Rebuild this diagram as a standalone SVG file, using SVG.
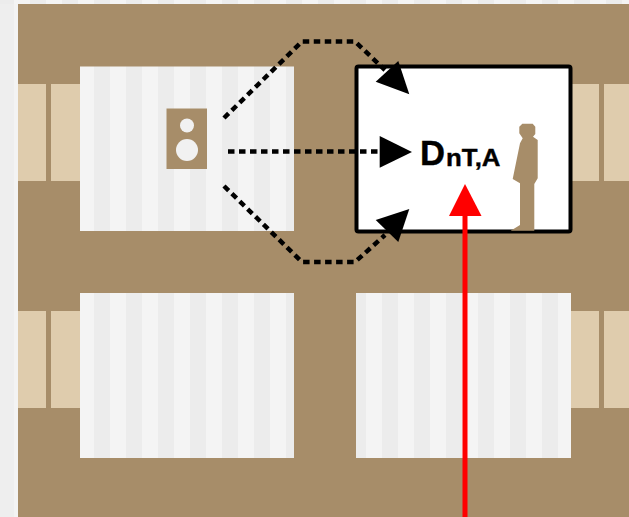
<svg xmlns="http://www.w3.org/2000/svg" width="629" height="517" viewBox="0 0 629 517">
<style>
.wall{fill:#a78d69}
.win{fill:#dfccad}
.room{fill:url(#stripes)}
.dash{fill:none;stroke:#000;stroke-width:4.500;stroke-dasharray:6.500 4.500}
.lbl{font-family:"Liberation Sans",Arial,sans-serif;font-weight:bold;fill:#000;stroke:#000;stroke-width:.4}
</style>
<defs>
<pattern id="stripes" patternUnits="userSpaceOnUse" x="14" y="0" width="32" height="10">
<rect width="16" height="10" fill="#f4f4f4"/>
<rect x="16" width="16" height="10" fill="#ececec"/>
</pattern>
</defs>
<rect id="background" width="629" height="517" fill="url(#stripes)"/>
<rect x="0" y="4" width="18" height="513" fill="#eeeeee"/>
<rect x="14" y="4" width="4" height="513" fill="#f3f3f3"/>
<g id="building">
<rect class="wall" x="18" y="4" width="611" height="513"/>
<g id="windows">
<rect class="win" x="18" y="84" width="28" height="97"/>
<rect class="win" x="51" y="84" width="29" height="97"/>
<rect class="win" x="18" y="311" width="28" height="97"/>
<rect class="win" x="51" y="311" width="29" height="97"/>
<rect class="win" x="571" y="84" width="28" height="97"/>
<rect class="win" x="604" y="84" width="25" height="97"/>
<rect class="win" x="571" y="311" width="28" height="97"/>
<rect class="win" x="604" y="311" width="25" height="97"/>
</g>
</g>
<g id="room-source"><rect class="room" x="80" y="66.500" width="214" height="164.500"/></g>
<g id="room-lower-left"><rect class="room" x="80" y="293" width="214" height="165"/></g>
<g id="room-lower-right"><rect class="room" x="356" y="293" width="215" height="165"/></g>
<g id="speaker">
<rect class="wall" x="166.500" y="108.500" width="40.500" height="60.500"/>
<circle cx="187" cy="125.500" r="7" fill="#f1f1f1"/>
<circle cx="187" cy="150" r="11" fill="#f1f1f1"/>
</g>
<g id="room-receiver">
<rect x="356.500" y="66.500" width="214" height="165" rx="2" fill="#fff" stroke="#000" stroke-width="4"/>
</g>
<g id="person">
<polygon class="wall" points="519.300,126.700 522.300,123.700 532.700,123.700 535.300,126.700 535.300,134 533,136.700 537.700,140 537.700,178.300 534.300,184 534.300,230.700 510.700,230.700 520,225 520,183.300 512.700,179 520,143.300 522.700,138.300 519.300,133.300"/>
</g>
<g id="connectors">
<path class="dash" d="M224 118 L302 41.500 H355 L385 70"/>
<path class="dash" d="M228 151.500 H378"/>
<path class="dash" d="M224 186 L302 262 H355 L385 235"/>
<polygon points="398.300,61 409.300,94.300 375.700,81.700"/>
<polygon points="379.700,136 412,152 379.700,167.700"/>
<polygon points="409.300,209 398.300,242 375.700,220"/>
<line x1="465" y1="517" x2="465" y2="214" stroke="#ff0000" stroke-width="5"/>
<polygon points="465,184 481.500,216 449,216" fill="#ff0000"/>
</g>
<g id="label">
<text class="lbl" x="420" y="165" font-size="35" textLength="25" lengthAdjust="spacingAndGlyphs">D</text>
<text class="lbl" x="446" y="165.500" font-size="24.500" textLength="54.500" lengthAdjust="spacingAndGlyphs">nT,A</text>
</g>
</svg>
